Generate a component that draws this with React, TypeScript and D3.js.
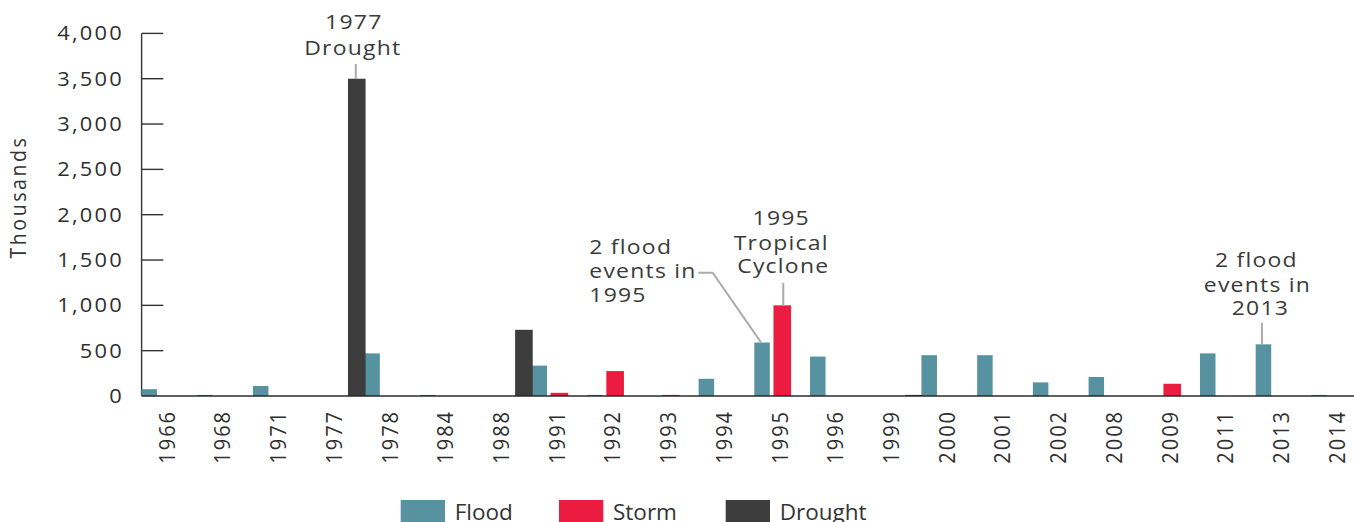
import React from "react";
import * as d3 from "d3";

const categories = ["1966","1968","1971","1977","1978","1984","1988","1991","1992","1993","1994","1995","1996","1999","2000","2001","2002","2008","2009","2011","2013","2014"];
const flood =   [75, 12, 110, 0, 470, 12, 0, 335, 12, 0, 190, 590, 435, 0, 450, 450, 150, 210, 0, 470, 570, 12];
const storm =   [0, 0, 0, 0, 0, 0, 0, 35, 275, 12, 0, 1000, 0, 0, 0, 0, 0, 0, 135, 0, 0, 0];
const drought = [0, 0, 0, 3500, 0, 0, 730, 0, 0, 0, 0, 0, 0, 12, 0, 0, 0, 0, 0, 0, 0, 0];
const seriesNames = ["Flood", "Storm", "Drought"];
const seriesValues = [flood, storm, drought];
const yTickValues = [0, 500, 1000, 1500, 2000, 2500, 3000, 3500, 4000];

const COLORS: Record<string, string> = { Flood: "#5692a0", Storm: "#ec1c40", Drought: "#3d3d3d" };
const BAR_W: Record<string, number> = { Flood: 15.5, Storm: 17.6, Drought: 17.6 };

const W = 1354, H = 522;
const SX = 1.12; // horizontal stretch of chart text
const FONT = "'Open Sans', sans-serif";

const plotLeft = 141.6;
const step = 55.71;
const yTop = 33.4, yBottom = 396;

export default function App() {
  const x = d3.scaleBand<string>().domain(categories).range([plotLeft, plotLeft + step * categories.length]).padding(0);
  const xs = d3.scaleBand<string>().domain(seriesNames).range([-30.3, 30.3]).padding(0);
  const y = d3.scaleLinear().domain([0, 4000]).range([yBottom, yTop]);
  const fmt = d3.format(",");
  const center = (c: string) => (x(c) as number) + x.bandwidth() / 2;
  const barCenter = (c: string, s: string) => center(c) + (xs(s) as number) + xs.bandwidth() / 2;

  const ann = { fill: "#3a3a3a", fontSize: 20.5, letterSpacing: 1.1, fontFamily: FONT };
  const stretchText = (tx: number, ty: number, str: string, anchor: string, style: any, key?: any) => (
    <text key={key} transform={`translate(${tx},${ty}) scale(${SX},1)`} textAnchor={anchor} style={style}>{str}</text>
  );

  const d77 = barCenter("1977", "Drought");
  const s95 = barCenter("1995", "Storm");
  const f95 = barCenter("1995", "Flood");
  const f13 = barCenter("2013", "Flood");

  const legendX = [400.7, 559, 725.7];

  return (
    <svg width={W} height={H} style={{ position: "absolute", left: 0, top: 0, background: "#fff" }}>
      {/* y axis title */}
      <text transform={`translate(26,197) scale(${SX},1) rotate(-90)`} textAnchor="middle"
        style={{ fontFamily: FONT, fontSize: 19.5, letterSpacing: 2.6, fill: "#333" }}>Thousands</text>

      {/* y ticks */}
      {yTickValues.map((t) => (
        <g key={t}>
          {t > 0 && <line x1={plotLeft} x2={163.3} y1={y(t)} y2={y(t)} stroke="#333" strokeWidth={1.4} />}
          {stretchText(121.7 + 2 * SX, y(t) + 7, fmt(t), "end", { fontFamily: FONT, fontSize: 19.5, letterSpacing: 2, fill: "#2e2e2e" })}
        </g>
      ))}
      <line x1={plotLeft} x2={plotLeft} y1={yTop} y2={yBottom} stroke="#333" strokeWidth={1.4} />

      {/* bars */}
      {seriesNames.map((s, si) =>
        categories.map((c, ci) => {
          const v = seriesValues[si][ci];
          if (!v) return null;
          const bc = barCenter(c, s);
          return <rect key={s + c} x={bc - BAR_W[s] / 2} width={BAR_W[s]} y={y(v)} height={y(0) - y(v)} fill={COLORS[s]} />;
        })
      )}

      {/* baseline */}
      <line x1={plotLeft} x2={W} y1={y(0)} y2={y(0)} stroke="#222" strokeOpacity={0.72} strokeWidth={2.2} />

      {/* x labels */}
      {categories.map((c) => (
        <text key={c} transform={`translate(${center(c) - 2.8},410) scale(${SX},1) rotate(-90)`} textAnchor="end" dy="0.36em"
          style={{ fontFamily: FONT, fontSize: 20, letterSpacing: 2, fill: "#2e2e2e" }}>{c}</text>
      ))}

      {/* annotations */}
      <line x1={d77 - 1} x2={d77 - 1} y1={64} y2={y(3500)} stroke="#aaa" strokeWidth={2} />
      {stretchText(d77 - 3, 29.3, "1977", "middle", ann)}
      {stretchText(d77 - 4, 55, "Drought", "middle", ann)}

      <line x1={s95 + 1} x2={s95 + 1} y1={283} y2={y(1000)} stroke="#aaa" strokeWidth={2} />
      {stretchText(s95 - 1, 225, "1995", "middle", ann)}
      {stretchText(s95 - 1, 250, "Tropical", "middle", ann)}
      {stretchText(s95 + 1, 272.7, "Cyclone", "middle", ann)}

      <polyline points={`698.3,272.7 712.7,272.7 ${f95 - 1},${y(590)}`} fill="none" stroke="#aaa" strokeWidth={2} />
      {stretchText(589.3, 254, "2 flood", "start", ann)}
      {stretchText(589.3, 278.3, "events in", "start", ann)}
      {stretchText(589.3, 301.7, "1995", "start", ann)}

      <line x1={f13 - 1.5} x2={f13 - 1.5} y1={322.7} y2={y(570)} stroke="#aaa" strokeWidth={2} />
      {stretchText(f13 - 7, 266.7, "2 flood", "middle", ann)}
      {stretchText(f13 - 6, 291.7, "events in", "middle", ann)}
      {stretchText(f13 - 3, 315, "2013", "middle", ann)}

      {/* legend */}
      {seriesNames.map((s, i) => (
        <g key={s}>
          <rect x={legendX[i]} y={500} width={44.3} height={24} fill={COLORS[s]} />
          <text x={legendX[i] + 54} y={519.5} style={{ fontFamily: FONT, fontSize: 22.5, fill: "#333" }}>{s}</text>
        </g>
      ))}
    </svg>
  );
}
